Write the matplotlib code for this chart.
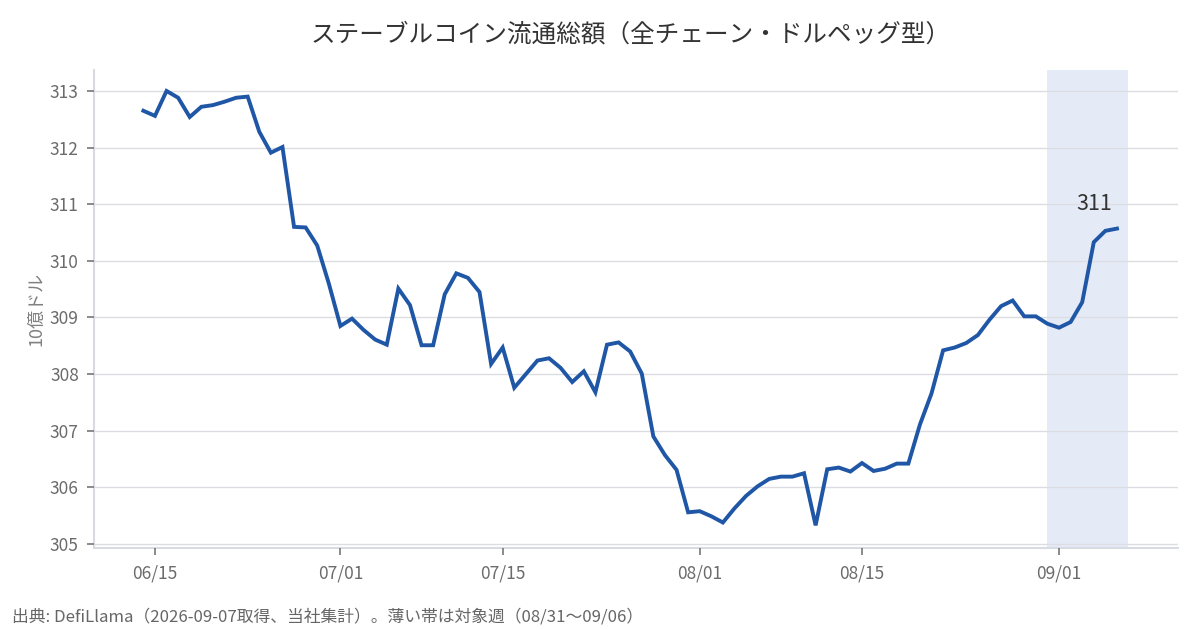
import matplotlib
matplotlib.use("Agg")
import matplotlib.pyplot as plt
import numpy as np
import pandas as pd

plt.rcParams['font.family'] = ['Noto Sans CJK JP', 'DejaVu Sans']

# ---- data ----
start_date = "2026-06-14"
values = [
    312.65, 312.56, 313.00, 312.88, 312.54, 312.72, 312.75, 312.81, 312.88, 312.90,
    312.28, 311.91, 312.01, 310.60, 310.59, 310.27, 309.60, 308.85, 308.98, 308.78,
    308.61, 308.52, 309.51, 309.22, 308.51, 308.51, 309.41, 309.78, 309.70, 309.45,
    308.18, 308.47, 307.76, 308.00, 308.24, 308.28, 308.11, 307.86, 308.05, 307.68,
    308.52, 308.56, 308.40, 308.01, 306.90, 306.57, 306.31, 305.56, 305.58, 305.49,
    305.38, 305.63, 305.85, 306.02, 306.15, 306.19, 306.19, 306.25, 305.33, 306.32,
    306.35, 306.28, 306.43, 306.29, 306.33, 306.42, 306.42, 307.11, 307.66, 308.42,
    308.47, 308.55, 308.69, 308.96, 309.20, 309.30, 309.02, 309.02, 308.89, 308.82,
    308.92, 309.27, 310.33, 310.53, 310.57,
]
dates = pd.date_range(start_date, periods=len(values), freq="D")
band_start, band_end = "2026-08-31", "2026-09-07"
tick_dates = ["2026-06-15", "2026-07-01", "2026-07-15", "2026-08-01", "2026-08-15", "2026-09-01"]
tick_labels = ["06/15", "07/01", "07/15", "08/01", "08/15", "09/01"]
y_ticks = [305, 306, 307, 308, 309, 310, 311, 312, 313]

title = "ステーブルコイン流通総額（全チェーン・ドルペッグ型）"
ylabel = "10億ドル"
footer = "出典: DefiLlama（2026-09-07取得、当社集計）。薄い帯は対象週（08/31〜09/06）"

# ---- styling ----
line_color = "#1f56a5"
band_color = "#e5ebf6"
grid_color = "#dcdde3"
spine_color = "#d8dbe2"
tick_color = "#777777"
label_color = "#6b6b6b"
text_dark = "#333333"

fig = plt.figure(figsize=(12, 6.3), dpi=100)
ax = fig.add_axes([94 / 1200, 1 - 548 / 630, (1177.7 - 94) / 1200, (548 - 70) / 630])

ax.axvspan(pd.Timestamp(band_start), pd.Timestamp(band_end) - pd.Timedelta(hours=1),
           color=band_color, zorder=0, lw=0)
ax.plot(dates, values, color=line_color, lw=2.8, zorder=3, solid_joinstyle="miter")

last_val = values[-1]
ax.annotate(f"{last_val:.0f}", xy=(dates[-1], last_val), xytext=(-16.5, 17.5),
            textcoords="offset points", ha="center", va="center",
            fontsize=15.5, color=text_dark)

ax.set_xlim(pd.Timestamp("2026-06-15") - pd.Timedelta(days=5.26),
            pd.Timestamp("2026-09-01") + pd.Timedelta(days=10.24))
ax.set_ylim(304.93, 313.37)

ax.set_xticks([pd.Timestamp(d) for d in tick_dates])
ax.set_xticklabels(tick_labels)
ax.set_yticks(y_ticks)
ax.set_yticklabels([str(v) for v in y_ticks])

ax.grid(axis="y", color=grid_color, lw=1, zorder=1)
ax.set_axisbelow(False)
for line in ax.get_ygridlines():
    line.set_zorder(1)

for s in ["top", "right"]:
    ax.spines[s].set_visible(False)
for s in ["left", "bottom"]:
    ax.spines[s].set_color(spine_color)
    ax.spines[s].set_linewidth(1.5)

ax.tick_params(axis="both", colors=tick_color, labelcolor=label_color,
               labelsize=12.5, length=5, width=1.2)
ax.tick_params(axis="x", pad=7)
ax.tick_params(axis="y", pad=6)

ax.set_ylabel(ylabel, fontsize=13, color="#808080", labelpad=3)

fig.text(631 / 1200, 1 - 35 / 630, title, ha="center", va="center",
         fontsize=17.7, color=text_dark)
fig.text(12 / 1200, 1 - 617 / 630, footer, ha="left", va="center",
         fontsize=12.1, color="#666666")

fig.savefig("out.png", dpi=100)
